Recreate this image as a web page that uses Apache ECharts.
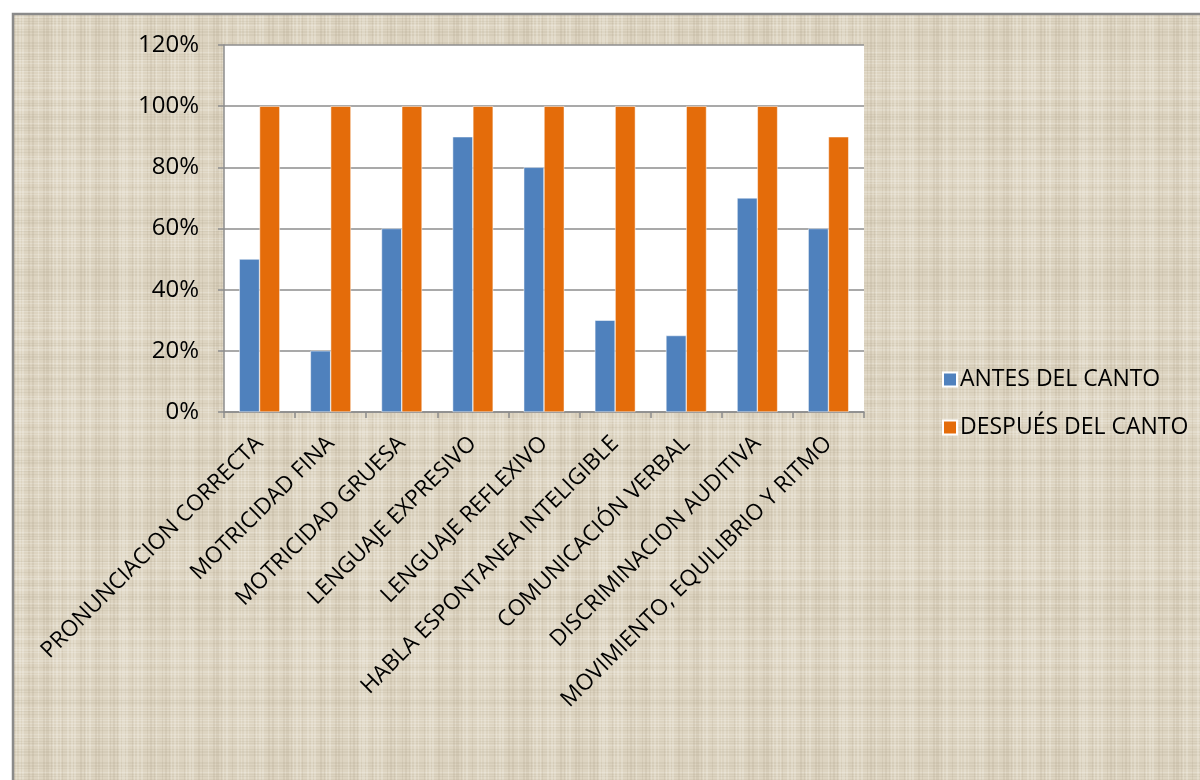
<!DOCTYPE html>
<html>
<head>
<meta charset="utf-8">
<script src="https://cdn.jsdelivr.net/npm/echarts@6/dist/echarts.min.js"></script>
<style>
html,body{margin:0;padding:0;background:#fff;}
#chart{width:1200px;height:780px;}
</style>
</head>
<body>
<div id="chart"></div>
<script>
const categories = [
  'PRONUNCIACION CORRECTA',
  'MOTRICIDAD FINA',
  'MOTRICIDAD GRUESA',
  'LENGUAJE EXPRESIVO',
  'LENGUAJE REFLEXIVO',
  'HABLA ESPONTANEA INTELIGIBLE',
  'COMUNICACIÓN VERBAL',
  'DISCRIMINACION AUDITIVA',
  'MOVIMIENTO, EQUILIBRIO Y RITMO'
];
const antesDelCanto = [0.50, 0.20, 0.60, 0.90, 0.80, 0.30, 0.25, 0.70, 0.60];
const despuesDelCanto = [1.00, 1.00, 1.00, 1.00, 1.00, 1.00, 1.00, 1.00, 0.90];
const seriesNames = ['ANTES DEL CANTO', 'DESPUÉS DEL CANTO'];

// linen-like texture (deterministic)
function makeTexture() {
  const c = document.createElement('canvas');
  c.width = 240; c.height = 240;
  const g = c.getContext('2d');
  g.fillStyle = '#ddd4c1';
  g.fillRect(0, 0, 240, 240);
  for (let i = 0; i < 240; i += 1) {
    const v = Math.sin(i * 1.7) * 0.4 + Math.sin(i * 0.37) * 0.35 + Math.sin(i * 0.11) * 0.25;
    g.fillStyle = v > 0.35 ? 'rgba(255,255,250,0.22)' : (v < -0.4 ? 'rgba(150,135,110,0.12)' : 'rgba(0,0,0,0)');
    g.fillRect(i, 0, 1, 240);
    const w = Math.sin(i * 2.3 + 1) * 0.4 + Math.sin(i * 0.53) * 0.35 + Math.sin(i * 0.07 + 2) * 0.25;
    g.fillStyle = w > 0.35 ? 'rgba(255,255,250,0.2)' : (w < -0.4 ? 'rgba(150,135,110,0.1)' : 'rgba(0,0,0,0)');
    g.fillRect(0, i, 240, 1);
  }
  return c;
}

const chart = echarts.init(document.getElementById('chart'));
const fontFamily = '"Open Sans", "Liberation Sans", sans-serif';
chart.setOption({
  backgroundColor: '#fff',
  graphic: [
    {
      type: 'rect',
      z: -10,
      silent: true,
      shape: { x: 13, y: 14, width: 1200, height: 780 },
      style: { fill: { image: makeTexture(), repeat: 'repeat' }, stroke: '#8a8a8a', lineWidth: 2.5 }
    }
  ],
  grid: {
    left: 224, top: 45, width: 640, height: 367,
    show: true, backgroundColor: '#ffffff', borderWidth: 0, z: 0
  },
  legend: {
    orient: 'vertical',
    left: 937, top: 363,
    itemWidth: 14, itemHeight: 14, itemGap: 25,
    icon: 'rect',
    textStyle: { fontFamily, fontSize: 23, color: '#000', padding: [0, 0, 0, -2] },
    data: seriesNames
  },
  xAxis: {
    type: 'category',
    data: categories,
    axisLine: { lineStyle: { color: '#8c8c8c', width: 1.5 } },
    axisTick: { show: true, length: 6, alignWithLabel: false, lineStyle: { color: '#8c8c8c', width: 1.5 } },
    axisLabel: { rotate: 45, interval: 0, fontFamily, fontSize: 22.5, color: '#000', margin: 28 }
  },
  yAxis: {
    type: 'value',
    min: 0, max: 1.2, interval: 0.2,
    axisLine: { show: true, lineStyle: { color: '#8c8c8c', width: 1.5 } },
    axisTick: { show: true, length: 6, lineStyle: { color: '#8c8c8c', width: 1.5 } },
    splitLine: { lineStyle: { color: '#8c8c8c', width: 1.5 } },
    axisLabel: {
      fontFamily, fontSize: 24, color: '#000', margin: 25,
      formatter: v => Math.round(v * 100) + '%'
    }
  },
  series: [
    {
      name: seriesNames[0], type: 'bar', data: antesDelCanto,
      barGap: '0%', barCategoryGap: '43%',
      itemStyle: { color: '#4f81bd', borderColor: '#ffffff', borderWidth: 0.5 }
    },
    {
      name: seriesNames[1], type: 'bar', data: despuesDelCanto,
      itemStyle: { color: '#e46c0a', borderColor: '#ffffff', borderWidth: 0.5 }
    }
  ]
});
</script>
</body>
</html>
